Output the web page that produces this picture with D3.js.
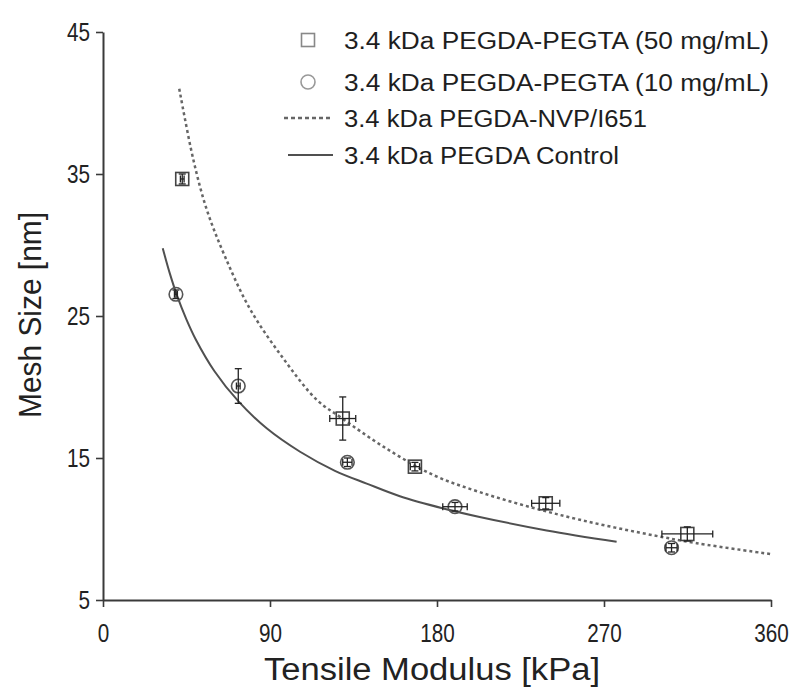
<!DOCTYPE html>
<html>
<head>
<meta charset="utf-8">
<script src="https://cdn.jsdelivr.net/npm/d3@7"></script>
<style>
  html, body { margin: 0; padding: 0; background: #fff; }
  svg { display: block; font-family: "Liberation Sans", Arial, sans-serif; }
</style>
</head>
<body>
<svg id="chart" width="800" height="693"></svg>
<script>
// ---- data ----
const xTicks = [0, 90, 180, 270, 360];
const yTicks = [5, 15, 25, 35, 45];

const squareX    = [42.7, 129.2, 168.1, 238.6, 314.9];
const squareY    = [34.65, 17.78, 14.39, 11.81, 9.65];
const squareXErr = [1.0, 7.0, 2.5, 7.6, 13.7];
const squareYErr = [0.35, 1.52, 0.3, 0.4, 0.5];

const circleX    = [39.3, 72.9, 131.7, 189.7, 306.4];
const circleY    = [26.53, 20.07, 14.7, 11.57, 8.68];
const circleXErr = [0.8, 1.0, 2.5, 6.6, 3.0];
const circleYErr = [0.3, 1.22, 0.3, 0.3, 0.3];

// fitted curves, points
const nvpCurveX = [41.1, 48.7, 55.9, 65.7, 79.2, 97.2, 115.2, 128.8, 151.1, 178, 203, 230, 257, 289, 320, 360];
const nvpCurveY = [41.0, 36.0, 32.5, 29.2, 25.5, 22.0, 19.1, 17.8, 15.8, 13.8, 12.6, 11.55, 10.65, 9.75, 9.0, 8.23];

const controlCurveX = [32.2, 36, 40, 45, 50, 60, 72.9, 88.2, 106.2, 125, 142.1, 160, 183.4, 203, 239.1, 276.8];
const controlCurveY = [29.77, 28.0, 26.4, 24.75, 23.35, 21.13, 19.0, 17.09, 15.44, 14.1, 13.2, 12.31, 11.45, 10.85, 9.9, 9.1];

const legendLabels = [
  "3.4 kDa PEGDA-PEGTA (50 mg/mL)",
  "3.4 kDa PEGDA-PEGTA (10 mg/mL)",
  "3.4 kDa PEGDA-NVP/I651",
  "3.4 kDa PEGDA Control"
];
const xTitle = "Tensile Modulus [kPa]";
const yTitle = "Mesh Size [nm]";

// ---- drawing ----
const svg = d3.select("#chart");
const x = d3.scaleLinear().domain([0, 360]).range([103, 771]);
const y = d3.scaleLinear().domain([5, 45]).range([600, 32]);
const axisColor = "#3a3a3a";

// curves
const line = d3.line().x(d => x(d[0])).y(d => y(d[1])).curve(d3.curveCatmullRom);
svg.append("path")
  .attr("d", line(nvpCurveX.map((v, i) => [v, nvpCurveY[i]])))
  .attr("fill", "none").attr("stroke", "#666").attr("stroke-width", 2.5)
  .attr("stroke-dasharray", "3,3");
svg.append("path")
  .attr("d", line(controlCurveX.map((v, i) => [v, controlCurveY[i]])))
  .attr("fill", "none").attr("stroke", "#505050").attr("stroke-width", 2);

// error bars helper
function errorBars(xs, ys, xe, ye) {
  const g = svg.append("g").attr("stroke", "#222").attr("stroke-width", 1.3).attr("fill", "none");
  xs.forEach((xv, i) => {
    const cx = x(xv), cy = y(ys[i]);
    const x0 = x(xv - xe[i]), x1 = x(xv + xe[i]);
    const y0 = y(ys[i] - ye[i]), y1 = y(ys[i] + ye[i]);
    g.append("line").attr("x1", x0).attr("x2", x1).attr("y1", cy).attr("y2", cy);
    g.append("line").attr("x1", x0).attr("x2", x0).attr("y1", cy - 3.5).attr("y2", cy + 3.5);
    g.append("line").attr("x1", x1).attr("x2", x1).attr("y1", cy - 3.5).attr("y2", cy + 3.5);
    g.append("line").attr("x1", cx).attr("x2", cx).attr("y1", y0).attr("y2", y1);
    g.append("line").attr("x1", cx - 3.5).attr("x2", cx + 3.5).attr("y1", y0).attr("y2", y0);
    g.append("line").attr("x1", cx - 3.5).attr("x2", cx + 3.5).attr("y1", y1).attr("y2", y1);
  });
}

// squares
const sq = 13;
svg.append("g").selectAll("rect").data(squareX).join("rect")
  .attr("x", (d) => x(d) - sq / 2)
  .attr("y", (d, i) => y(squareY[i]) - sq / 2)
  .attr("width", sq).attr("height", sq)
  .attr("fill", "none").attr("stroke", "#444").attr("stroke-width", 1.6);
errorBars(squareX, squareY, squareXErr, squareYErr);

// circles
svg.append("g").selectAll("circle").data(circleX).join("circle")
  .attr("cx", d => x(d))
  .attr("cy", (d, i) => y(circleY[i]))
  .attr("r", 6.8)
  .attr("fill", "none").attr("stroke", "#555").attr("stroke-width", 1.6);
errorBars(circleX, circleY, circleXErr, circleYErr);

// axes
const xAxis = d3.axisBottom(x).tickValues(xTicks).tickSize(7).tickSizeOuter(0).tickFormat(d3.format("d"));
const yAxis = d3.axisLeft(y).tickValues(yTicks).tickSize(7).tickSizeOuter(0).tickFormat(d3.format("d"));

const gx = svg.append("g").attr("transform", "translate(0,600)").call(xAxis);
const gy = svg.append("g").attr("transform", "translate(103,0)").call(yAxis);
[gx, gy].forEach(g => {
  g.select(".domain").attr("stroke", axisColor).attr("stroke-width", 2);
  g.selectAll(".tick line").attr("stroke", axisColor).attr("stroke-width", 1.6);
  g.selectAll(".tick text").attr("fill", "#222").attr("font-size", 25)
    .attr("font-family", "'Liberation Sans', Arial, sans-serif");
});
gx.selectAll(".tick text").attr("dy", 0).attr("y", 42)
  .attr("textLength", d => String(d).length * 11.5).attr("lengthAdjust", "spacingAndGlyphs");
gy.selectAll(".tick text").attr("x", -13).attr("dy", "0.35em")
  .attr("textLength", d => String(d).length * 11.5).attr("lengthAdjust", "spacingAndGlyphs");

// axis titles
svg.append("text")
  .attr("x", 432).attr("y", 680)
  .attr("text-anchor", "middle")
  .attr("font-size", 31).attr("fill", "#222")
  .attr("textLength", 336).attr("lengthAdjust", "spacingAndGlyphs")
  .text(xTitle);
svg.append("text")
  .attr("transform", "translate(41,315) rotate(-90)")
  .attr("text-anchor", "middle")
  .attr("font-size", 31).attr("fill", "#222")
  .attr("textLength", 206).attr("lengthAdjust", "spacingAndGlyphs")
  .text(yTitle);

// legend
const legendY = [40, 82, 118, 155];
const legendW = [425, 425, 303, 275];
const lg = svg.append("g");
lg.append("rect").attr("x", 308 - 6.5).attr("y", legendY[0] - 6.5).attr("width", 13).attr("height", 13)
  .attr("fill", "none").attr("stroke", "#888").attr("stroke-width", 1.6);
lg.append("circle").attr("cx", 308).attr("cy", legendY[1]).attr("r", 7)
  .attr("fill", "none").attr("stroke", "#999").attr("stroke-width", 1.6);
lg.append("line").attr("x1", 284).attr("x2", 332).attr("y1", legendY[2]).attr("y2", legendY[2])
  .attr("stroke", "#666").attr("stroke-width", 2.3).attr("stroke-dasharray", "4,3");
lg.append("line").attr("x1", 288).attr("x2", 333).attr("y1", legendY[3]).attr("y2", legendY[3])
  .attr("stroke", "#505050").attr("stroke-width", 2.2);
lg.selectAll("text").data(legendLabels).join("text")
  .attr("x", 344).attr("y", (d, i) => legendY[i] + 8.5)
  .attr("font-size", 23.5).attr("fill", "#1e1e1e")
  .attr("textLength", (d, i) => legendW[i]).attr("lengthAdjust", "spacingAndGlyphs")
  .text(d => d);
</script>
</body>
</html>
